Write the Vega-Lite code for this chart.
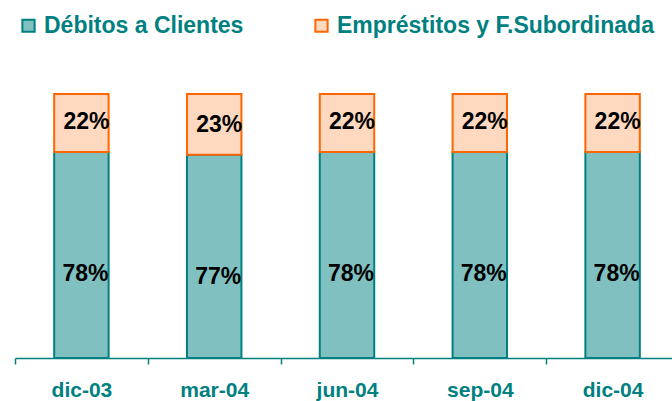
{
  "$schema": "https://vega.github.io/schema/vega-lite/v6.json",
  "autosize": "none",
  "width": 664,
  "height": 264,
  "padding": {"left": 15, "top": 94, "right": 0, "bottom": 43},
  "background": "white",
  "config": {"view": {"stroke": null}, "font": "Liberation Sans"},
  "data": {"values": [
    {"period": "dic-03", "serie": "Débitos a Clientes", "ord": 1, "v": 78, "label": "78%"},
    {"period": "dic-03", "serie": "Empréstitos y F.Subordinada", "ord": 2, "v": 22, "label": "22%"},
    {"period": "mar-04", "serie": "Débitos a Clientes", "ord": 1, "v": 77, "label": "77%"},
    {"period": "mar-04", "serie": "Empréstitos y F.Subordinada", "ord": 2, "v": 23, "label": "23%"},
    {"period": "jun-04", "serie": "Débitos a Clientes", "ord": 1, "v": 78, "label": "78%"},
    {"period": "jun-04", "serie": "Empréstitos y F.Subordinada", "ord": 2, "v": 22, "label": "22%"},
    {"period": "sep-04", "serie": "Débitos a Clientes", "ord": 1, "v": 78, "label": "78%"},
    {"period": "sep-04", "serie": "Empréstitos y F.Subordinada", "ord": 2, "v": 22, "label": "22%"},
    {"period": "dic-04", "serie": "Débitos a Clientes", "ord": 1, "v": 78, "label": "78%"},
    {"period": "dic-04", "serie": "Empréstitos y F.Subordinada", "ord": 2, "v": 22, "label": "22%"}
  ]},
  "transform": [
    {"stack": "v", "groupby": ["period"], "sort": [{"field": "ord", "order": "ascending"}], "as": ["v0", "v1"]}
  ],
  "encoding": {
    "x": {"field": "period", "type": "nominal", "sort": null,
      "scale": {"paddingInner": 0.59, "paddingOuter": 0.295},
      "axis": {"title": null, "labelAngle": 0, "labelFont": "Liberation Sans", "labelFontSize": 21, "labelFontWeight": "bold", "labelColor": "#008080", "labelPadding": 15, "domainColor": "#008080", "domainWidth": 1.5, "ticks": true, "tickColor": "#008080", "tickOffset": -66.4, "labelOffset": 66.4, "tickSize": 6, "tickWidth": 1.5}}
  },
  "layer": [
    {
      "mark": {"type": "bar", "strokeWidth": 2},
      "encoding": {
        "y": {"field": "v0", "type": "quantitative", "scale": {"domain": [0, 100]}, "axis": null},
        "y2": {"field": "v1"},
        "fill": {"field": "serie", "type": "nominal", "scale": {"domain": ["Débitos a Clientes", "Empréstitos y F.Subordinada"], "range": ["#80C0C0", "#FFD8C0"]},
          "legend": {"orient": "none", "legendX": 2, "legendY": -80, "direction": "horizontal", "title": null, "symbolType": "square", "symbolSize": 150, "symbolStrokeWidth": 2, "labelFont": "Liberation Sans", "labelFontSize": 23, "labelFontWeight": "bold", "labelColor": "#008080", "columnPadding": 66, "labelOffset": 4, "labelLimit": 400}},
        "stroke": {"field": "serie", "type": "nominal", "scale": {"domain": ["Débitos a Clientes", "Empréstitos y F.Subordinada"], "range": ["#008080", "#FF6600"]}, "legend": null}
      }
    },
    {
      "transform": [{"filter": "datum.ord == 1"}],
      "mark": {"type": "text", "font": "Liberation Sans", "fontSize": 23, "fontWeight": "bold", "color": "black", "baseline": "middle", "dy": 122, "dx": 4},
      "encoding": {
        "y": {"field": "v1", "type": "quantitative", "scale": {"domain": [0, 100]}},
        "text": {"field": "label", "type": "nominal"}
      }
    },
    {
      "transform": [{"filter": "datum.ord == 2"}],
      "mark": {"type": "text", "font": "Liberation Sans", "fontSize": 23, "fontWeight": "bold", "color": "black", "baseline": "middle", "dy": -30, "dx": 5},
      "encoding": {
        "y": {"field": "v0", "type": "quantitative", "scale": {"domain": [0, 100]}},
        "text": {"field": "label", "type": "nominal"}
      }
    }
  ]
}
